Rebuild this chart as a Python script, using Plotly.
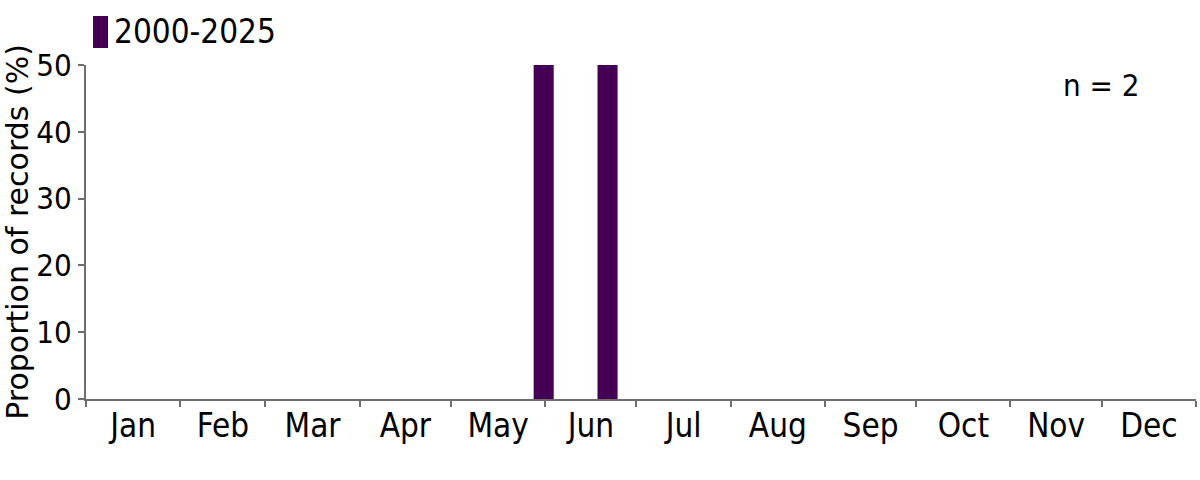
import datetime as dt
import plotly.graph_objects as go

# ---- data ----
series_name = "2000-2025"
weeks = list(range(1, 53))
proportion = [0] * 52
proportion[21] = 50   # week 22
proportion[24] = 50   # week 25
n_records = 2
month_labels = ["Jan", "Feb", "Mar", "Apr", "May", "Jun",
                "Jul", "Aug", "Sep", "Oct", "Nov", "Dec"]

year0 = dt.datetime(2025, 1, 1)
x_dates = [year0 + dt.timedelta(days=(w - 1) * 7 + 3.5) for w in weeks]

FONT = "DejaVu Sans Condensed, DejaVu Sans"
AXIS_COL = "#6e6e6e"
BAR_COL = "#440154"

fig = go.Figure()
fig.add_trace(go.Bar(
    x=x_dates, y=proportion, name=series_name,
    marker=dict(color=BAR_COL, line=dict(width=0)),
    width=6.6 * 24 * 3600 * 1000,
    showlegend=False,
))

fig.update_layout(
    width=1200, height=480,
    margin=dict(l=86, r=4, t=65, b=81, autoexpand=False),
    plot_bgcolor="white", paper_bgcolor="white",
    font=dict(family=FONT, size=33, color="black"),
    xaxis=dict(
        type="date", automargin=False,
        range=[year0, dt.datetime(2026, 1, 1)],
        dtick="M1", tick0="2025-01-01",
        ticklabelmode="period", tickformat="%b",
        ticks="outside", ticklen=6, tickwidth=2, tickcolor=AXIS_COL,
        showline=True, linecolor=AXIS_COL, linewidth=2,
        showgrid=False, zeroline=False,
        tickfont=dict(size=33), ticklabelstandoff=-10,
    ),
    yaxis=dict(
        automargin=True,
        range=[0, 50], tickvals=[0, 10, 20, 30, 40, 50],
        ticks="outside", ticklen=6, tickwidth=2, tickcolor=AXIS_COL,
        showline=True, linecolor=AXIS_COL, linewidth=2,
        showgrid=False, zeroline=False,
        title=dict(text="Proportion of records (%)",
                   font=dict(size=30, family="DejaVu Sans"), standoff=4),
        tickfont=dict(size=31),
    ),
    showlegend=False,
)

# legend swatch + label
fig.add_shape(type="rect", xref="paper", yref="paper",
              x0=(93 - 86) / 1110, x1=(108 - 86) / 1110,
              y0=(399 - 48) / 334, y1=(399 - 16) / 334,
              fillcolor=BAR_COL, line=dict(width=0))
fig.add_annotation(xref="paper", yref="paper",
                   x=(112 - 86) / 1110, y=(399 - 32) / 334,
                   xanchor="left", yanchor="middle", showarrow=False,
                   text=series_name, font=dict(size=33))
fig.add_annotation(xref="paper", yref="paper",
                   x=(1101 - 86) / 1110, y=(399 - 85) / 334,
                   xanchor="center", yanchor="middle",
                   showarrow=False, text=f"n = {n_records}",
                   font=dict(size=31))

fig.write_html("out.html",
               config={"displayModeBar": False},
               post_script="document.body.style.margin='0';document.body.style.padding='0';")
